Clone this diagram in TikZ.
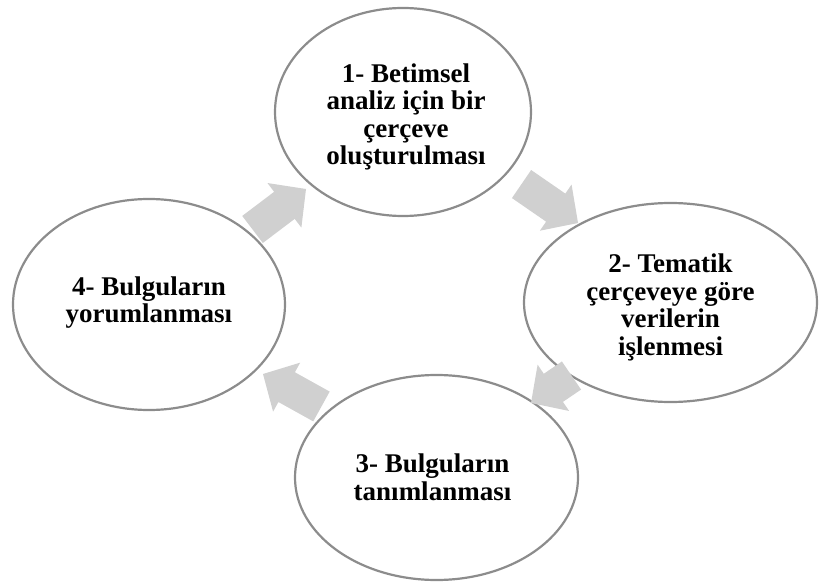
\documentclass[tikz,border=0pt]{standalone}
\usepackage{fontspec}
\setmainfont{Liberation Serif}
\usetikzlibrary{shapes.geometric,calc}
\definecolor{ringgray}{RGB}{140,140,140}
\definecolor{arrowfill}{RGB}{208,208,208}
\newcommand\blockarrow[2]{%
  \fill[arrowfill] let \p1=(#1), \p2=(#2),
    \n1={atan2(\y2-\y1,\x2-\x1)}, \n2={veclen(\x2-\x1,\y2-\y1)-27} in
    (\p1) ++(\n1+90:17pt) -- ++(\n1:\n2) -- ++(\n1+90:11pt) -- (\p2)
    -- ++(\n1+226.04:38.9pt) -- ++(\n1+90:11pt) -- ++(\n1+180:\n2) -- cycle;}
\tikzset{
  stage/.style={ellipse, draw=ringgray, line width=2.2pt, fill=white,
    inner sep=0pt},
  stagetext/.style={inner sep=0pt, align=center,
    font=\fontsize{27}{27.5}\selectfont\bfseries}
}
\begin{document}
\begin{tikzpicture}[x=1pt,y=1pt]
\useasboundingbox (0,0) rectangle (819,582);
\node[stage, minimum width=256, minimum height=208] (s1) at (403,470) {};
\node[stage, minimum width=293, minimum height=199] (s2) at (670.5,279.5) {};
\node[stage, minimum width=283, minimum height=205] (s3) at (436.5,104.5) {};
\node[stage, minimum width=272, minimum height=211] (s4) at (149,277.5) {};
\node[stagetext] (t1) at ([xshift=3pt,yshift=-5pt]s1.center)
  {1- Betimsel\\analiz için bir\\çerçeve\\oluşturulması};
\node[stagetext] (t2) at ([yshift=-5pt]s2.center)
  {2- Tematik\\çerçeveye göre\\verilerin\\işlenmesi};
\node[stagetext] (t3) at ([xshift=-4pt]s3.center)
  {3- Bulguların\\tanımlanması};
\node[stagetext] (t4) at ([yshift=2pt]s4.center)
  {4- Bulguların\\yorumlanması};
\coordinate (a1t) at (252.5,352.5); \coordinate (a1h) at (306,393);
\coordinate (a2t) at (521.5,398);   \coordinate (a2h) at (578,359);
\coordinate (a3t) at (571.5,206.5); \coordinate (a3h) at (531,179);
\coordinate (a4t) at (321.5,175.5); \coordinate (a4h) at (263,208);
\blockarrow{a1t}{a1h}
\blockarrow{a2t}{a2h}
\blockarrow{a3t}{a3h}
\blockarrow{a4t}{a4h}
\end{tikzpicture}
\end{document}
